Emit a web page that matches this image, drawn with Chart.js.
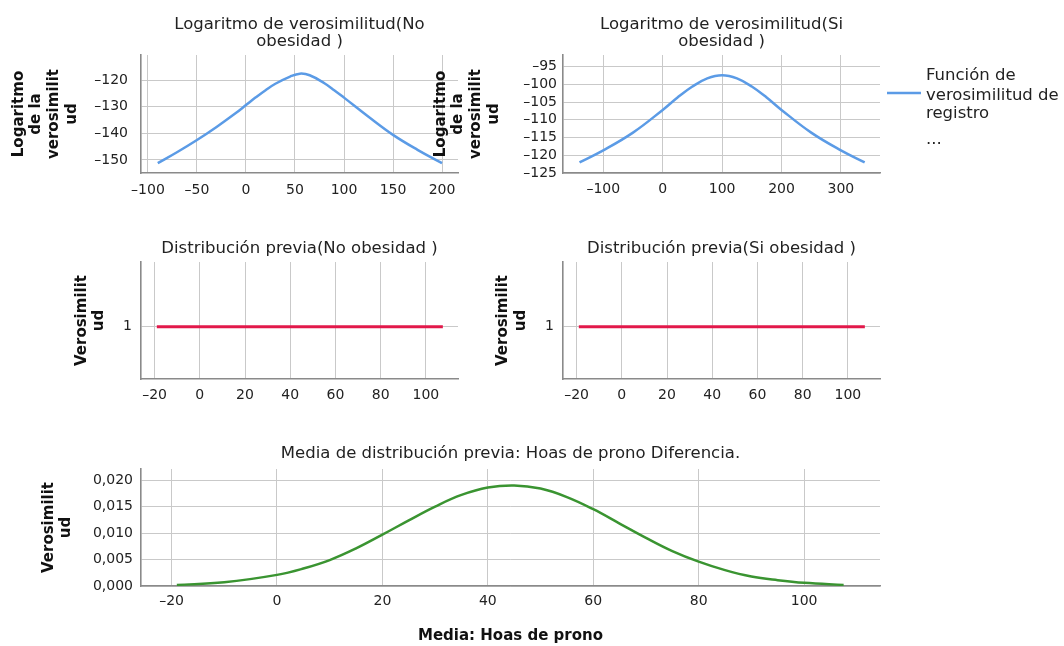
<!DOCTYPE html>
<html>
<head>
<meta charset="utf-8">
<script src="https://cdn.jsdelivr.net/npm/chart.js@4.4.0/dist/chart.umd.min.js"></script>
<style>
  body { margin: 0; background: #fff; width: 1064px; height: 646px; position: relative; overflow: hidden; }
  canvas { position: absolute; }
</style>
</head>
<body>
<canvas id="c1"></canvas>
<canvas id="c2"></canvas>
<canvas id="c3"></canvas>
<canvas id="c4"></canvas>
<canvas id="c5"></canvas>
<script>
// log-likelihood, No obesidad
const noObX = [-90, -70, -50, -30, -10, 0, 10, 20, 30, 45, 55, 65, 80, 90, 100, 125, 150, 175, 200];
const noObY = [-151.2, -147.0, -142.5, -137.6, -132.3, -129.4, -126.5, -123.8, -121.4, -118.7, -117.6, -118.2, -121.2, -123.8, -126.6, -133.8, -140.6, -146.2, -151.2];
// log-likelihood, Si obesidad
const siObX = [-140, -100, -50, 0, 25, 50, 75, 100, 125, 150, 175, 200, 250, 300, 340];
const siObY = [-122.0, -118.6, -113.6, -107.2, -103.7, -100.6, -98.3, -97.4, -98.3, -100.6, -103.7, -107.2, -113.6, -118.6, -122.0];
// prior (flat)
const priorX = [-19, 107.5];
const priorY = [1, 1];
// prior mean density
const meanX = [-19, -10, 0, 5, 10, 15, 20, 25, 30, 35, 40, 45, 50, 55, 60, 65, 70, 75, 80, 85, 90, 95, 100, 107.5];
const meanY = [0.0002, 0.0007, 0.0021, 0.0033, 0.0049, 0.0071, 0.0097, 0.0124, 0.0150, 0.0172, 0.0186, 0.0190, 0.0184, 0.0168, 0.0145, 0.0118, 0.0091, 0.0066, 0.0046, 0.0030, 0.0018, 0.0011, 0.0006, 0.0002];

// tick values and labels
const xTicks1 = [-100, -50, 0, 50, 100, 150, 200];
const xLabels1 = ['–100', '–50', '0', '50', '100', '150', '200'];
const yTicks1 = [-120, -130, -140, -150];
const yLabels1 = ['–120', '–130', '–140', '–150'];
const xTicks2 = [-100, 0, 100, 200, 300];
const xLabels2 = ['–100', '0', '100', '200', '300'];
const yTicks2 = [-95, -100, -105, -110, -115, -120, -125];
const yLabels2 = ['–95', '–100', '–105', '–110', '–115', '–120', '–125'];
const xTicksPrior = [-20, 0, 20, 40, 60, 80, 100];
const xLabelsPrior = ['–20', '0', '20', '40', '60', '80', '100'];
const yTicksPrior = [1];
const yLabelsPrior = ['1'];
const yTicks5 = [0, 0.005, 0.010, 0.015, 0.020];
const yLabels5 = ['0,000', '0,005', '0,010', '0,015', '0,020'];

const legendLines = ['Función de', 'verosimilitud de', 'registro', '...'];

const FONT = '"DejaVu Sans", sans-serif';
const BLUE = '#5b9be6';
const RED = '#e2184a';
const GREEN = '#3a9431';

// title drawn centred over the plot area
const panelTitle = {
  id: 'panelTitle',
  afterDraw(chart, args, o) {
    if (!o.lines) return;
    const ctx = chart.ctx;
    const a = chart.chartArea;
    ctx.save();
    ctx.font = '16.5px ' + FONT;
    ctx.fillStyle = '#222';
    ctx.textAlign = 'center';
    ctx.textBaseline = 'middle';
    o.lines.forEach((t, i) => ctx.fillText(t, (a.left + a.right) / 2, o.y + i * 17.5));
    ctx.restore();
  }
};

// legend to the right of the top-right panel
const sideLegend = {
  id: 'sideLegend',
  afterDraw(chart, args, o) {
    if (!o.show) return;
    const ctx = chart.ctx;
    ctx.save();
    ctx.strokeStyle = BLUE;
    ctx.lineWidth = 2.5;
    ctx.beginPath();
    ctx.moveTo(o.x, o.lineY);
    ctx.lineTo(o.x + 34, o.lineY);
    ctx.stroke();
    ctx.font = '16.5px ' + FONT;
    ctx.fillStyle = '#222';
    ctx.textBaseline = 'middle';
    const ys = [76, 95.5, 114, 140];
    legendLines.forEach((t, i) => ctx.fillText(t, o.x + 39, ys[i]));
    ctx.restore();
  }
};

function panel(id, box, area, cfg) {
  const cv = document.getElementById(id);
  cv.width = box.w;
  cv.height = box.h;
  cv.style.left = box.x + 'px';
  cv.style.top = box.y + 'px';

  const tickFont = { family: FONT, size: 14 };
  const grid = { color: '#c9c9c9', lineWidth: 1, drawTicks: false };
  const border = { display: true, color: '#8a8a8a', width: 1.6 };

  return new Chart(cv, {
    type: 'line',
    data: {
      datasets: [{
        label: cfg.label,
        data: cfg.xs.map((x, i) => ({ x: x, y: cfg.ys[i] })),
        borderColor: cfg.color,
        borderWidth: cfg.lw || 2.5,
        pointRadius: 0,
        tension: 0.4,
        fill: false
      }]
    },
    options: {
      responsive: false,
      animation: false,
      events: [],
      layout: { padding: { left: 0, top: area.top - box.y, right: box.x + box.w - area.right, bottom: 0 } },
      plugins: {
        legend: { display: false },
        tooltip: { enabled: false },
        panelTitle: cfg.title,
        sideLegend: cfg.legend || {}
      },
      scales: {
        x: {
          type: 'linear',
          min: cfg.xMin, max: cfg.xMax,
          grid: grid, border: border,
          afterBuildTicks: s => { s.ticks = cfg.xTicks.map(v => ({ value: v })); },
          afterFit: s => { s.height = box.y + box.h - area.bottom; },
          ticks: {
            font: tickFont, color: '#222', padding: cfg.xPad,
            autoSkip: false, maxRotation: 0,
            callback: (v, i) => cfg.xLabels[i]
          },
          title: cfg.xTitle ? {
            display: true, text: cfg.xTitle, color: '#111',
            font: { family: FONT, size: 15, weight: 'bold', lineHeight: 1.17 },
            padding: { top: 0, bottom: 1.2 }
          } : { display: false }
        },
        y: {
          type: 'linear',
          min: cfg.yMin, max: cfg.yMax,
          grid: grid, border: border,
          afterBuildTicks: s => { s.ticks = cfg.yTicks.map(v => ({ value: v })); },
          afterFit: s => { s.width = area.left - box.x; },
          ticks: {
            font: tickFont, color: '#222', padding: cfg.yPad,
            autoSkip: false,
            callback: (v, i) => cfg.yLabels[i]
          },
          title: {
            display: true, text: cfg.yTitle, color: '#111',
            font: { family: FONT, size: 15, weight: 'bold', lineHeight: 1.17 },
            padding: { top: cfg.yTitlePad, bottom: 0 }
          }
        }
      }
    },
    plugins: [panelTitle, sideLegend]
  });
}

const logTitle = ['Logaritmo', 'de la', 'verosimilit', 'ud'];
const likTitle = ['Verosimilit', 'ud'];

panel('c1', { x: 0, y: 0, w: 470, h: 200 }, { left: 141, right: 458, top: 55, bottom: 173 }, {
  label: 'Función de verosimilitud de registro',
  xs: noObX, ys: noObY, color: BLUE,
  xMin: -107.1, xMax: 216.3, yMin: -154.9, yMax: -110.6,
  xTicks: xTicks1, xLabels: xLabels1, yTicks: yTicks1, yLabels: yLabels1,
  xPad: 8.5, yPad: 13, yTitle: logTitle, yTitlePad: 10.2,
  title: { lines: ['Logaritmo de verosimilitud(No', 'obesidad )'], y: 24.5 }
});

panel('c2', { x: 430, y: 0, w: 634, h: 200 }, { left: 563, right: 880, top: 55, bottom: 173 }, {
  label: 'Función de verosimilitud de registro',
  xs: siObX, ys: siObY, color: BLUE,
  xMin: -167.8, xMax: 365.8, yMin: -125, yMax: -91.7,
  xTicks: xTicks2, xLabels: xLabels2, yTicks: yTicks2, yLabels: yLabels2,
  xPad: 7.5, yPad: 6, yTitle: logTitle, yTitlePad: 2.2,
  title: { lines: ['Logaritmo de verosimilitud(Si', 'obesidad )'], y: 24.5 },
  legend: { show: true, x: 457, lineY: 93 }
});

panel('c3', { x: 60, y: 230, w: 420, h: 180 }, { left: 141, right: 458, top: 262, bottom: 379 }, {
  label: 'Distribución previa',
  xs: priorX, ys: priorY, color: RED, lw: 2.8,
  xMin: -26, xMax: 114.2, yMin: 0.5, yMax: 1.62,
  xTicks: xTicksPrior, xLabels: xLabelsPrior, yTicks: yTicksPrior, yLabels: yLabelsPrior,
  xPad: 7.6, yPad: 9, yTitle: likTitle, yTitlePad: 13.2,
  title: { lines: ['Distribución previa(No obesidad )'], y: 18.3 }
});

panel('c4', { x: 480, y: 230, w: 420, h: 180 }, { left: 563, right: 880, top: 262, bottom: 379 }, {
  label: 'Distribución previa',
  xs: priorX, ys: priorY, color: RED, lw: 2.8,
  xMin: -26, xMax: 114.2, yMin: 0.5, yMax: 1.62,
  xTicks: xTicksPrior, xLabels: xLabelsPrior, yTicks: yTicksPrior, yLabels: yLabelsPrior,
  xPad: 7.6, yPad: 9, yTitle: likTitle, yTitlePad: 14.7,
  title: { lines: ['Distribución previa(Si obesidad )'], y: 18.3 }
});

panel('c5', { x: 30, y: 440, w: 870, h: 206 }, { left: 141, right: 880, top: 469, bottom: 586 }, {
  label: 'Media de distribución previa',
  xs: meanX, ys: meanY, color: GREEN,
  xMin: -25.8, xMax: 114.4, yMin: 0, yMax: 0.0221,
  xTicks: xTicksPrior, xLabels: xLabelsPrior, yTicks: yTicks5, yLabels: yLabels5,
  xPad: 7.3, yPad: 8, yTitle: likTitle, yTitlePad: 10.2,
  xTitle: 'Media: Hoas de prono',
  title: { lines: ['Media de distribución previa: Hoas de prono Diferencia.'], y: 14 }
});
</script>
</body>
</html>
